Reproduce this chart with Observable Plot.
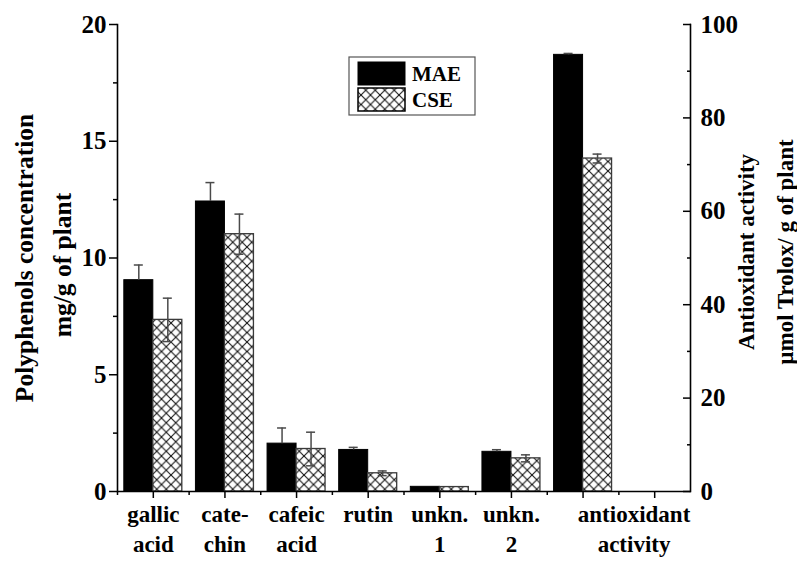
<!DOCTYPE html>
<html>
<head>
<meta charset="utf-8">
<script src="https://cdn.jsdelivr.net/npm/d3@7"></script>
<script src="https://cdn.jsdelivr.net/npm/@observablehq/plot@0.6"></script>
<style>
  html, body { margin: 0; padding: 0; background: #fff; }
  #chart { width: 797px; height: 561px; }
  #chart g[aria-label*="y-axis tick label"], #chart g[aria-label*="y-axis tick label"] text { font-size: 25px !important; }
</style>
</head>
<body>
<div id="chart"></div>
<script>
// ---- data ----
const categories = ["gallic acid", "catechin", "cafeic acid", "rutin", "unkn. 1", "unkn. 2", "antioxidant activity"];
const tickLabels = ["gallic\nacid", "cate-\nchin", "cafeic\nacid", "rutin", "unkn.\n1", "unkn.\n2", "antioxidant\nactivity"];
const rightAxisCategory = "antioxidant activity"; // plotted against the right axis (0–100)
const series = ["MAE", "CSE"];
const maeValues = [9.05, 12.42, 2.05, 1.78, 0.20, 1.70, 93.5];
const maeErrors = [0.65, 0.81, 0.67, 0.11, 0, 0.09, 0.3];
const cseValues = [7.35, 11.02, 1.82, 0.78, 0.19, 1.42, 71.3];
const cseErrors = [0.93, 0.86, 0.72, 0.10, 0, 0.15, 0.95];
const leftTicks = [0, 5, 10, 15, 20];
const leftMinorTicks = [2.5, 7.5, 12.5, 17.5];
const rightTicks = [0, 20, 40, 60, 80, 100];
const rightMinorTicks = [10, 30, 50, 70, 90];
const leftTitle = ["Polyphenols concentration", "mg/g of plant"];
const rightTitle = ["Antioxidant activity", "µmol Trolox/ g of plant"];

// right axis (0–100) mapped onto left axis (0–20)
const ratio = 100 / 20;
const toLeft = (cat, v) => cat === rightAxisCategory ? v / ratio : v;

const rows = categories.map((c, i) => ({
  cat: c,
  label: tickLabels[i],
  mae: toLeft(c, maeValues[i]),
  maeErr: toLeft(c, maeErrors[i]),
  cse: toLeft(c, cseValues[i]),
  cseErr: toLeft(c, cseErrors[i])
}));
const xDomain = [...categories, ""];

const W = 797, H = 561;
const mL = 117, mR = 107, mT = 24, mB = 70;
const step = (W - mL - mR) / xDomain.length;
const barW = 29;
const outer = (step - 2 * barW) / 2;
const capW = 9;
const maeCenter = outer + barW / 2;            // from band start
const cseCenter = outer + barW + barW / 2;
const font = "'Liberation Serif', 'Times New Roman', serif";

const left = rows.filter(d => d.cat !== rightAxisCategory);
const right = rows.filter(d => d.cat === rightAxisCategory);
const maeErrRows = rows.filter(d => d.maeErr > 0);
const cseErrRows = rows.filter(d => d.cseErr > 0);
const errColor = "#4a4a4a";

const plot = Plot.plot({
  width: W, height: H,
  marginLeft: mL, marginRight: mR, marginTop: mT, marginBottom: mB,
  style: {fontFamily: font, fontWeight: "bold", fontSize: "23px", background: "#fff", color: "#000"},
  x: {type: "band", domain: xDomain, padding: 0, round: false},
  y: {domain: [0, 20]},
  marks: [
    // bars
    Plot.barY(rows, {x: "cat", y: "mae", fill: "#000", stroke: "#000", strokeWidth: 1,
      insetLeft: outer, insetRight: step - outer - barW}),
    Plot.barY(rows, {x: "cat", y: "cse", fill: "url(#xhatch)", stroke: "#3a3a3a", strokeWidth: 1.3,
      insetLeft: outer + barW, insetRight: outer}),
    // error bars
    Plot.ruleX(maeErrRows, {x: "cat", y1: "mae", y2: d => d.mae + d.maeErr, dx: maeCenter - step / 2, stroke: errColor, strokeWidth: 1.5}),
    Plot.tickY(maeErrRows, {x: "cat", y: d => d.mae + d.maeErr, stroke: errColor, strokeWidth: 1.5,
      insetLeft: maeCenter - capW / 2, insetRight: step - maeCenter - capW / 2}),
    Plot.ruleX(cseErrRows, {x: "cat", y1: d => d.cse - d.cseErr, y2: d => d.cse + d.cseErr, dx: cseCenter - step / 2, stroke: errColor, strokeWidth: 1.5}),
    Plot.tickY(cseErrRows, {x: "cat", y: d => d.cse + d.cseErr, stroke: errColor, strokeWidth: 1.5,
      insetLeft: cseCenter - capW / 2, insetRight: step - cseCenter - capW / 2}),
    Plot.tickY(cseErrRows, {x: "cat", y: d => d.cse - d.cseErr, stroke: errColor, strokeWidth: 1.5,
      insetLeft: cseCenter - capW / 2, insetRight: step - cseCenter - capW / 2}),
    // axis lines
    Plot.ruleY([0], {stroke: "#000", strokeWidth: 1.6}),
    Plot.frame({anchor: "left", stroke: "#000", strokeWidth: 1.6}),
    Plot.frame({anchor: "right", stroke: "#000", strokeWidth: 1.6}),
    // x ticks
    Plot.axisX({tickSize: 7, text: null, strokeWidth: 1.5, label: null}),
    Plot.axisX({tickSize: 4, text: null, strokeWidth: 1.5, dx: -step / 2, label: null}),
    // x tick labels
    Plot.text(left, {x: "cat", text: "label", frameAnchor: "bottom", lineAnchor: "top", dy: 9, lineHeight: 1.3,
      fontSize: 23, fontWeight: "bold", fill: "#000"}),
    Plot.text(right, {x: "cat", text: "label", frameAnchor: "bottom", lineAnchor: "top", dy: 9, dx: 51, lineHeight: 1.3,
      fontSize: 23, fontWeight: "bold", fill: "#000"}),
    // left y axis
    Plot.axisY({anchor: "left", ticks: leftTicks, tickSize: 8, tickPadding: 3, strokeWidth: 1.5, label: null}),
    Plot.axisY({anchor: "left", ticks: leftMinorTicks, tickSize: 4, text: null, strokeWidth: 1.5, label: null}),
    // right y axis (ticks inward)
    Plot.axisY({anchor: "right", ticks: rightTicks.map(t => t / ratio), tickSize: -8, text: null, strokeWidth: 1.5, label: null}),
    Plot.axisY({anchor: "right", ticks: rightMinorTicks.map(t => t / ratio), tickSize: -4, text: null, strokeWidth: 1.5, label: null}),
    Plot.axisY({anchor: "right", ticks: rightTicks.map(t => t / ratio), tickSize: 0, tickPadding: 10,
      tickFormat: d => d3.format("d")(d * ratio), label: null})
  ]
});

const svg = d3.select(plot);
// larger numbers on the y axes
svg.selectAll("g").filter(function () {
  const a = this.getAttribute("aria-label") || "";
  return a.indexOf("y-axis tick label") >= 0;
}).style("font-size", "25px");

// crosshatch pattern
const defs = svg.insert("defs", ":first-child");
const p = 9.5;
const pat = defs.append("pattern").attr("id", "xhatch").attr("patternUnits", "userSpaceOnUse")
  .attr("width", p).attr("height", p);
pat.append("rect").attr("width", p).attr("height", p).attr("fill", "#fff");
pat.append("path").attr("d", `M0,0L${p},${p}M${p},0L0,${p}`)
  .attr("stroke", "#111").attr("stroke-width", 1.1).attr("fill", "none");

// axis titles
const titleG = svg.append("g").attr("font-family", font).attr("font-weight", "bold").attr("fill", "#000");
[[24, 258, 25.5, leftTitle[0]], [62, 265, 25.5, leftTitle[1]], [746, 252, 23, rightTitle[0]], [785, 252, 23, rightTitle[1]]]
  .forEach(([x, y, fs, t]) => {
    titleG.append("text").attr("transform", `translate(${x},${y}) rotate(-90)`)
      .attr("font-size", fs).attr("text-anchor", "middle").attr("dy", "0.35em").text(t);
  });

// legend
const lg = svg.append("g").attr("font-family", font).attr("font-weight", "bold").attr("font-size", 21).attr("text-anchor", "start");
lg.append("rect").attr("x", 349).attr("y", 57).attr("width", 126).attr("height", 58)
  .attr("fill", "#fff").attr("stroke", "#555").attr("stroke-width", 1.2);
lg.append("rect").attr("x", 358).attr("y", 62).attr("width", 47).attr("height", 23).attr("fill", "#000").attr("stroke", "#000");
lg.append("rect").attr("x", 358).attr("y", 88).attr("width", 47).attr("height", 23).attr("fill", "url(#xhatch)").attr("stroke", "#000").attr("stroke-width", 1.5);
lg.append("text").attr("x", 412).attr("y", 81).text(series[0]);
lg.append("text").attr("x", 412).attr("y", 107).text(series[1]);

document.getElementById("chart").appendChild(plot);
</script>
</body>
</html>
